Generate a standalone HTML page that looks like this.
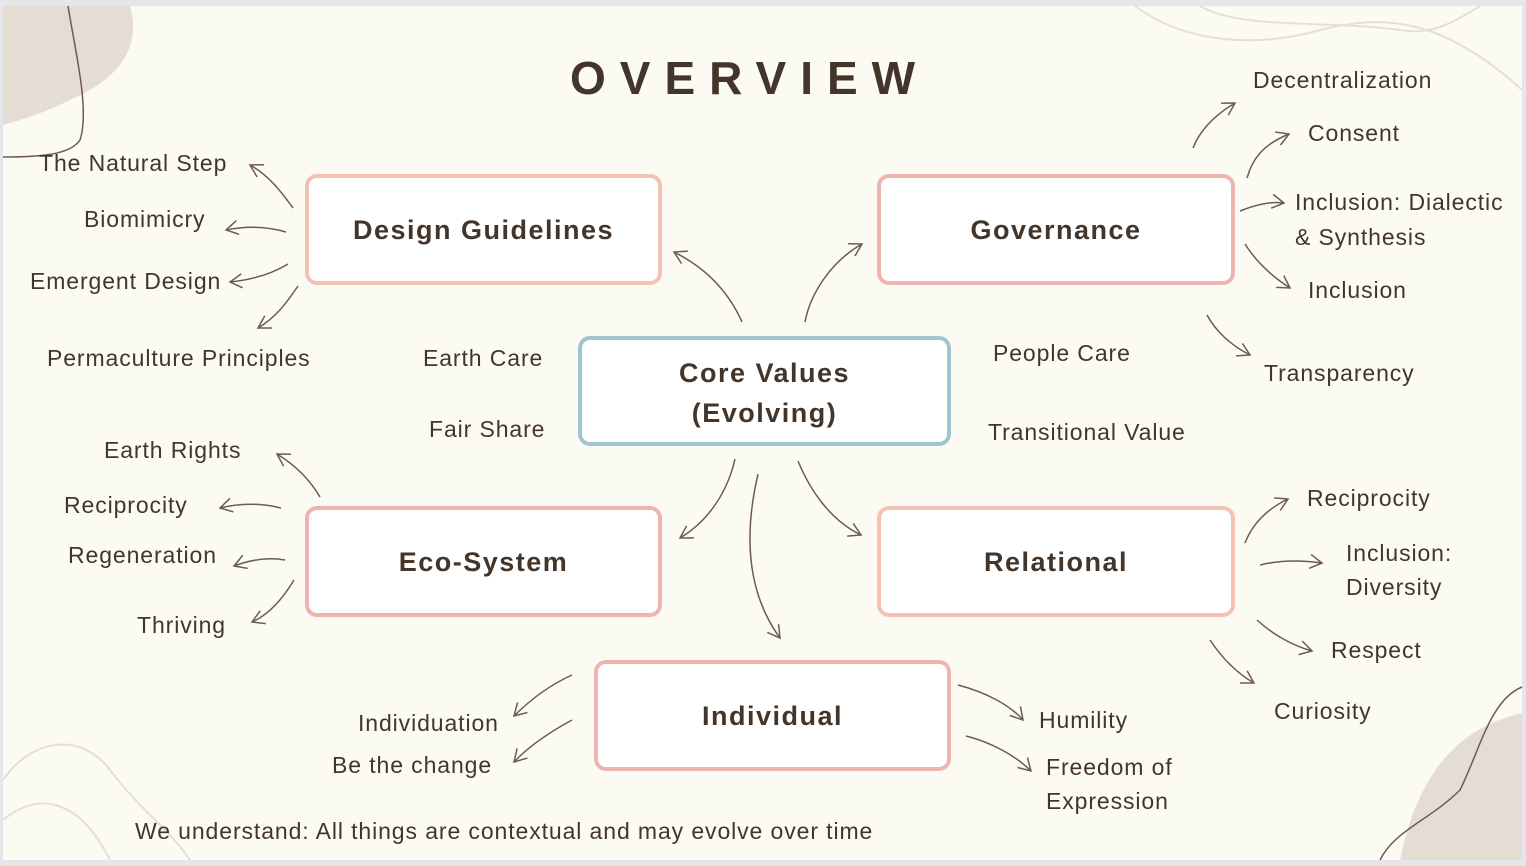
<!DOCTYPE html>
<html><head><meta charset="utf-8"><style>
html,body{margin:0;padding:0;background:#e5e6ea;}
#s{position:absolute;left:0;top:0;width:1526px;height:866px;overflow:hidden;font-family:"Liberation Sans",sans-serif;color:#43352a;}
.t{position:absolute;font-size:23px;letter-spacing:0.9px;white-space:nowrap;line-height:34px;}
.b{position:absolute;box-sizing:border-box;border:4px solid #f0b4ae;border-radius:12px;background:#fff;display:flex;align-items:center;justify-content:center;text-align:center;font-weight:bold;font-size:27px;letter-spacing:1.5px;line-height:28px;}
</style></head><body><div id="s">
<svg width="1526" height="866" style="position:absolute;left:0;top:0">
<defs><marker id="a" markerWidth="16" markerHeight="16" refX="13" refY="8" orient="auto" markerUnits="userSpaceOnUse"><path d="M1,1 L13,8 L1,15" fill="none" stroke="#6e5a52" stroke-width="1.5"/></marker></defs>
<rect x="3" y="6" width="1519" height="854" fill="#fbfbf4"/>
<path d="M3,6 L130,6 C140,40 128,75 70,100 C40,115 20,120 3,125 Z" fill="#e5ddd3"/>
<path d="M68,6 C75,50 90,110 80,140 C70,155 40,157 3,157" fill="none" stroke="#6e5a52" stroke-width="1.5"/>
<path d="M1522,713 C1470,725 1420,760 1400,860 L1522,860 Z" fill="#e5ddd3"/>
<path d="M1522,687 C1490,700 1480,750 1460,790 C1430,820 1395,830 1380,860" fill="none" stroke="#6e5a52" stroke-width="1.5"/>
<path d="M1135,6 C1180,40 1250,50 1320,30 C1380,15 1440,15 1522,90" fill="none" stroke="#e8dfd3" stroke-width="2"/>
<path d="M1200,6 C1240,30 1330,20 1400,30 C1430,35 1450,25 1480,6" fill="none" stroke="#e8dfd3" stroke-width="2"/>
<path d="M3,780 C30,740 80,730 110,770 C140,810 170,830 190,860" fill="none" stroke="#e8dfd3" stroke-width="2"/>
<path d="M3,820 C40,790 80,800 110,860" fill="none" stroke="#e8dfd3" stroke-width="2"/>
<g fill="none" stroke="#6e5a52" stroke-width="1.5" marker-end="url(#a)">
<path d="M293,208 C280,190 268,175 250,165"/>
<path d="M286,232 C265,226 245,226 226,230"/>
<path d="M288,264 C270,275 250,280 230,282"/>
<path d="M298,286 C285,305 275,318 258,328"/>
<path d="M742,322 C730,295 710,270 674,252"/>
<path d="M805,322 C810,295 830,262 862,244"/>
<path d="M1193,148 C1200,130 1215,115 1235,103"/>
<path d="M1247,178 C1252,160 1262,145 1289,134"/>
<path d="M1240,211 C1255,205 1270,201 1284,203"/>
<path d="M1245,244 C1255,260 1270,275 1290,288"/>
<path d="M1207,315 C1215,330 1230,345 1250,355"/>
<path d="M735,459 C728,490 710,520 680,538"/>
<path d="M798,461 C810,490 830,520 861,535"/>
<path d="M758,474 C745,530 745,590 780,638"/>
<path d="M320,497 C310,480 295,465 277,454"/>
<path d="M281,508 C262,503 240,503 220,508"/>
<path d="M285,560 C268,557 250,560 234,566"/>
<path d="M294,580 C282,600 268,615 252,622"/>
<path d="M1245,543 C1252,525 1265,510 1288,499"/>
<path d="M1260,565 C1280,560 1300,560 1322,563"/>
<path d="M1257,620 C1270,632 1290,645 1312,651"/>
<path d="M1210,640 C1220,655 1235,672 1254,683"/>
<path d="M572,675 C550,685 530,700 514,716"/>
<path d="M572,720 C550,732 530,745 514,762"/>
<path d="M958,685 C985,692 1010,705 1023,720"/>
<path d="M966,736 C990,742 1015,755 1031,771"/>
</g>
</svg>
<div class="t" style="left:570px;top:50px;font-size:46px;font-weight:bold;letter-spacing:14px;line-height:56px">OVERVIEW</div>
<div class="b" style="left:305px;top:174px;width:357px;height:111px;border-color:#f3c2b2">Design Guidelines</div>
<div class="b" style="left:877px;top:174px;width:358px;height:111px">Governance</div>
<div class="b" style="left:578px;top:336px;width:373px;height:110px;border-color:#9fc5d0;line-height:40px;padding-top:4px">Core Values<br>(Evolving)</div>
<div class="b" style="left:305px;top:506px;width:357px;height:111px">Eco-System</div>
<div class="b" style="left:877px;top:506px;width:358px;height:111px;border-color:#f3c2b2">Relational</div>
<div class="b" style="left:594px;top:660px;width:357px;height:111px;align-items:flex-start;padding-top:38px">Individual</div>
<div class="t" style="left:39px;top:146px">The Natural Step</div>
<div class="t" style="left:84px;top:202px">Biomimicry</div>
<div class="t" style="left:30px;top:264px">Emergent Design</div>
<div class="t" style="left:47px;top:341px">Permaculture Principles</div>
<div class="t" style="left:423px;top:341px">Earth Care</div>
<div class="t" style="left:429px;top:412px">Fair Share</div>
<div class="t" style="left:993px;top:336px">People Care</div>
<div class="t" style="left:988px;top:415px">Transitional Value</div>
<div class="t" style="left:1253px;top:63px">Decentralization</div>
<div class="t" style="left:1308px;top:116px">Consent</div>
<div class="t" style="left:1295px;top:185px">Inclusion: Dialectic</div>
<div class="t" style="left:1295px;top:220px">&amp; Synthesis</div>
<div class="t" style="left:1308px;top:273px">Inclusion</div>
<div class="t" style="left:1264px;top:356px">Transparency</div>
<div class="t" style="left:104px;top:433px">Earth Rights</div>
<div class="t" style="left:64px;top:488px">Reciprocity</div>
<div class="t" style="left:68px;top:538px">Regeneration</div>
<div class="t" style="left:137px;top:608px">Thriving</div>
<div class="t" style="left:1307px;top:481px">Reciprocity</div>
<div class="t" style="left:1346px;top:536px">Inclusion:</div>
<div class="t" style="left:1346px;top:570px">Diversity</div>
<div class="t" style="left:1331px;top:633px">Respect</div>
<div class="t" style="left:1274px;top:694px">Curiosity</div>
<div class="t" style="left:358px;top:706px">Individuation</div>
<div class="t" style="left:332px;top:748px">Be the change</div>
<div class="t" style="left:1039px;top:703px">Humility</div>
<div class="t" style="left:1046px;top:750px">Freedom of</div>
<div class="t" style="left:1046px;top:784px">Expression</div>
<div class="t" style="left:135px;top:814px">We understand: All things are contextual and may evolve over time</div>
</div></body></html>
